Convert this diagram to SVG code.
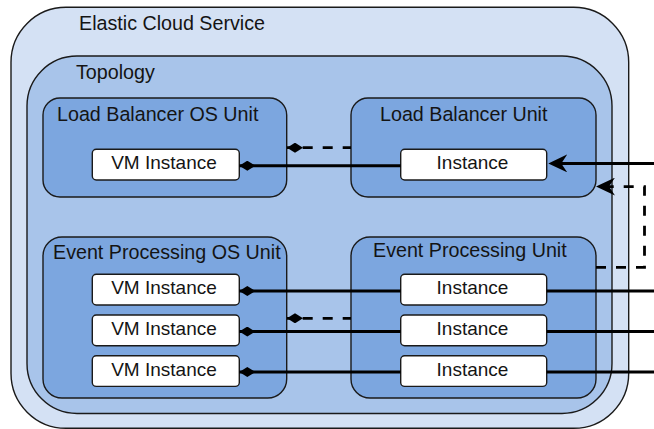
<svg xmlns="http://www.w3.org/2000/svg" width="654" height="429" viewBox="0 0 654 429">
<style>
.box{stroke:#1a1a1a;stroke-width:1.4}
.outer{fill:#d4e1f4}
.topo{fill:#a8c4ea}
.unit{fill:#7ca6df}
.inst{fill:#ffffff}
.title{font-family:"Liberation Sans",Arial,sans-serif;font-size:19.7px;fill:#141414}
.lbl{font-family:"Liberation Sans",Arial,sans-serif;font-size:19px;fill:#141414;text-anchor:middle}
.solid{fill:none;stroke:#000;stroke-width:3}
.dash{fill:none;stroke:#000;stroke-width:2.8;stroke-dasharray:10 10}
</style>
<defs>
<marker id="diamond" markerUnits="userSpaceOnUse" viewBox="0 -5 16 10" refX="0" refY="0" markerWidth="16" markerHeight="10" orient="auto">
<path d="M0,0 L8,-5 L16,0 L8,5 Z" fill="#000"/>
</marker>
<marker id="arrow" markerUnits="userSpaceOnUse" viewBox="-19 -9 19 18" refX="-8" refY="0" markerWidth="19" markerHeight="18" orient="auto">
<path d="M0,0 L-19,-9 L-13,0 L-19,9 Z" fill="#000"/>
</marker>
</defs>

<g id="elastic-cloud-service">
<rect class="box outer" x="11" y="7.3" width="617.7" height="421" rx="55"/>
<text class="title" x="79" y="30">Elastic Cloud Service</text>
</g>

<g id="topology">
<rect class="box topo" x="27" y="56" width="585" height="357.5" rx="50"/>
<text class="title" x="76" y="79">Topology</text>
</g>

<g id="lb-os-unit">
<rect class="box unit" x="43" y="98" width="243.7" height="99" rx="17"/>
<text class="title" x="57" y="121">Load Balancer OS Unit</text>
</g>
<g id="lb-unit">
<rect class="box unit" x="351" y="98" width="245" height="99" rx="17"/>
<text class="title" x="380" y="121">Load Balancer Unit</text>
</g>
<g id="ep-os-unit">
<rect class="box unit" x="43" y="237" width="243.7" height="161" rx="19"/>
<text class="title" x="53" y="259">Event Processing OS Unit</text>
</g>
<g id="ep-unit">
<rect class="box unit" x="351" y="237" width="245" height="161" rx="19"/>
<text class="title" x="373" y="257">Event Processing Unit</text>
</g>

<g id="lb-vm">
<rect class="box inst" x="92.3" y="149.3" width="147" height="30.7" rx="4"/>
<text class="lbl" x="164" y="169.3">VM Instance</text>
</g>
<g id="lb-inst">
<rect class="box inst" x="400.7" y="149.3" width="146" height="30.7" rx="4"/>
<text class="lbl" x="472.5" y="169.3">Instance</text>
</g>
<g id="ep-vm-1">
<rect class="box inst" x="92.3" y="274.3" width="147" height="30.7" rx="4"/>
<text class="lbl" x="164" y="294.3">VM Instance</text>
</g>
<g id="ep-vm-2">
<rect class="box inst" x="92.3" y="315" width="147" height="30.7" rx="4"/>
<text class="lbl" x="164" y="335">VM Instance</text>
</g>
<g id="ep-vm-3">
<rect class="box inst" x="92.3" y="355.7" width="147" height="30.7" rx="4"/>
<text class="lbl" x="164" y="375.7">VM Instance</text>
</g>
<g id="ep-inst-1">
<rect class="box inst" x="400.7" y="274.3" width="146" height="30.7" rx="4"/>
<text class="lbl" x="472.5" y="294.3">Instance</text>
</g>
<g id="ep-inst-2">
<rect class="box inst" x="400.7" y="315" width="146" height="30.7" rx="4"/>
<text class="lbl" x="472.5" y="335">Instance</text>
</g>
<g id="ep-inst-3">
<rect class="box inst" x="400.7" y="355.7" width="146" height="30.7" rx="4"/>
<text class="lbl" x="472.5" y="375.7">Instance</text>
</g>

<g id="connectors">
<path class="dash" d="M287,147.7 H351" stroke-dashoffset="4.3" marker-start="url(#diamond)"/>
<path class="solid" d="M239.3,165.7 H400.7" marker-start="url(#diamond)"/>
<path class="solid" d="M654,163.4 H556.3" marker-end="url(#arrow)"/>
<path class="dash" d="M596,267.3 H644.5 V186.6 H604" marker-end="url(#arrow)"/>
<path class="solid" d="M239.3,291 H400.7" marker-start="url(#diamond)"/>
<path class="solid" d="M546.7,291 H654"/>
<path class="dash" d="M287,318.3 H351" stroke-dashoffset="4.3" marker-start="url(#diamond)"/>
<path class="solid" d="M239.3,331.6 H400.7" marker-start="url(#diamond)"/>
<path class="solid" d="M546.7,331.6 H654"/>
<path class="solid" d="M239.3,372 H400.7" marker-start="url(#diamond)"/>
<path class="solid" d="M546.7,372 H654"/>
</g>
</svg>
